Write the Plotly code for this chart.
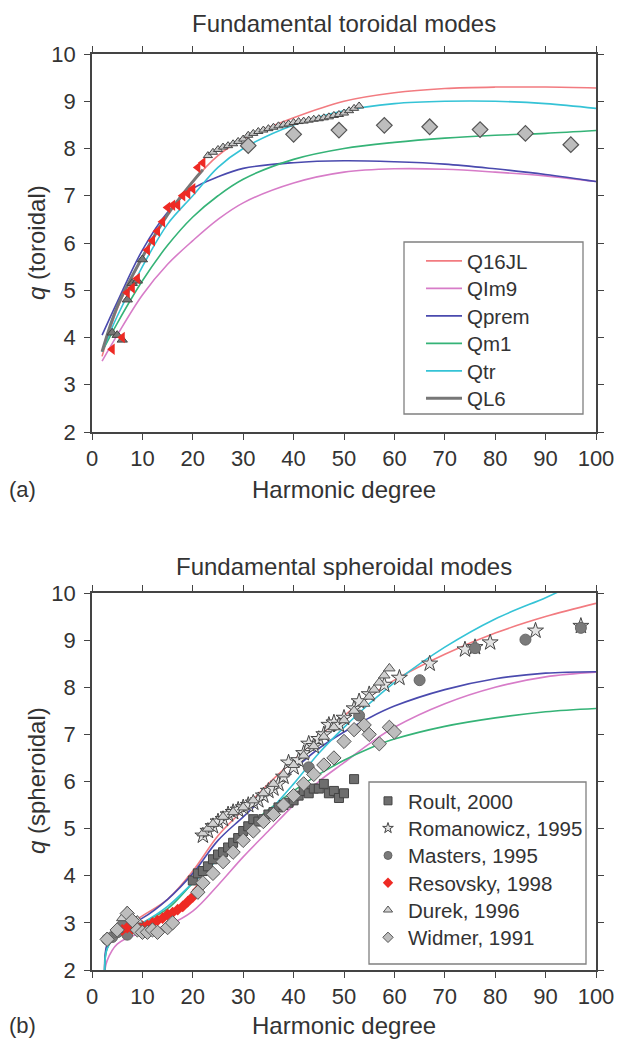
import plotly.graph_objects as go

W, H = 618, 1040

# ---------------- Panel (a): toroidal ----------------
tor_l = [2, 5, 10, 15, 20, 25, 30, 40, 50, 60, 70, 80, 90, 100]
tor_Q16JL = [3.6, 4.6, 5.7, 6.6, 7.3, 7.85, 8.2, 8.65, 9.0, 9.18, 9.27, 9.3, 9.3, 9.28]
tor_QIm9 = [3.5, 4.05, 4.9, 5.55, 6.05, 6.5, 6.85, 7.27, 7.5, 7.57, 7.56, 7.5, 7.42, 7.3]
tor_Qprem = [4.05, 4.75, 5.85, 6.65, 7.15, 7.4, 7.58, 7.7, 7.74, 7.72, 7.67, 7.57, 7.45, 7.3]
tor_Qm1 = [3.7, 4.3, 5.2, 5.95, 6.55, 7.0, 7.35, 7.77, 8.0, 8.13, 8.22, 8.28, 8.32, 8.38]
tor_Qtr = [3.7, 4.45, 5.5, 6.4, 7.0, 7.6, 8.0, 8.5, 8.8, 8.95, 9.0, 9.0, 8.95, 8.85]
tor_QL6_l = [2, 5, 10, 15, 20, 22]
tor_QL6 = [3.7, 4.65, 5.7, 6.6, 7.3, 7.55]

tor_res_l = [4, 6, 7, 8, 9, 11, 12, 13, 14, 15, 16, 17, 18, 19, 20, 21, 22]
tor_res_q = [3.75, 4.0, 4.95, 5.05, 5.25, 5.85, 6.05, 6.25, 6.45, 6.75, 6.8, 6.8, 7.0, 7.05, 7.15, 7.6, 7.7]
tor_tri_lo_l = [4, 5, 6, 7, 8, 9, 10]
tor_tri_lo_q = [4.1, 4.05, 3.95, 4.8, 5.15, 5.2, 5.65]
tor_tri_l = list(range(23, 54))
tor_tri_q = [7.85, 7.92, 7.98, 8.03, 8.06, 8.1, 8.15, 8.2, 8.28, 8.32, 8.36, 8.39, 8.42, 8.45,
             8.48, 8.5, 8.52, 8.55, 8.57, 8.58, 8.6, 8.62, 8.63, 8.65, 8.67, 8.7, 8.72, 8.75,
             8.8, 8.85, 8.9]
tor_dia_l = [31, 40, 49, 58, 67, 77, 86, 95]
tor_dia_q = [8.06, 8.3, 8.39, 8.49, 8.46, 8.4, 8.32, 8.08]

# ---------------- Panel (b): spheroidal ----------------
sph_l = [2.5, 3, 5, 10, 15, 20, 25, 30, 35, 40, 45, 50, 55, 60, 70, 80, 90, 100]
sph_Q16JL = [2.0, 2.5, 2.8, 3.15, 3.5, 4.1, 4.85, 5.4, 5.95, 6.45, 6.95, 7.4, 7.8, 8.15, 8.7, 9.15, 9.5, 9.78]
sph_QIm9 = [1.95, 2.2, 2.55, 2.8, 2.95, 3.25, 3.8, 4.4, 4.95, 5.5, 6.0, 6.4, 6.8, 7.15, 7.65, 8.0, 8.22, 8.32]
sph_Qprem = [2.0, 2.55, 2.85, 3.1, 3.5, 4.05, 4.75, 5.25, 5.75, 6.25, 6.7, 7.05, 7.35, 7.6, 7.95, 8.18, 8.3, 8.33]
sph_Qm1 = [2.0, 2.45, 2.75, 3.0, 3.3, 3.85, 4.4, 4.95, 5.4, 5.8, 6.15, 6.45, 6.7, 6.9, 7.17, 7.35, 7.48, 7.55]
sph_Qtr_l = [2.5, 3, 5, 10, 15, 20, 25, 30, 35, 40, 45, 50, 55, 60, 70, 80, 90, 93]
sph_Qtr = [2.0, 2.45, 2.75, 3.0, 3.35, 3.85, 4.35, 4.85, 5.35, 5.95, 6.6, 7.15, 7.65, 8.1, 8.85, 9.45, 9.9, 10.05]

roult_l = [20, 21, 22, 23, 24, 25, 26, 27, 28, 29, 30, 31, 32, 33, 34, 35, 36, 37, 38, 39, 40,
           41, 42, 43, 44, 45, 46, 47, 48, 49, 50, 52]
roult_q = [3.9, 4.05, 4.1, 4.2, 4.35, 4.45, 4.5, 4.6, 4.7, 4.8, 4.95, 5.05, 5.2, 5.15, 5.2, 5.3,
           5.35, 5.45, 5.5, 5.55, 5.6, 5.7, 5.8, 5.75, 5.85, 5.85, 5.95, 5.75, 5.8, 5.65, 5.75, 6.05]
roman_l = [22, 23, 24, 25, 26, 27, 28, 29, 30, 31, 32, 33, 34, 35, 36, 37, 38, 39, 40, 41, 42,
           43, 44, 45, 46, 47, 48, 49, 50, 52, 53, 55, 58, 61, 67, 74, 76, 79, 88, 97]
roman_q = [4.85, 4.95, 5.05, 5.15, 5.2, 5.3, 5.35, 5.4, 5.45, 5.5, 5.55, 5.6, 5.7, 5.8, 5.85,
           5.95, 6.1, 6.4, 6.3, 6.45, 6.6, 6.8, 6.75, 6.9, 7.0, 7.2, 7.25, 7.2, 7.35, 7.55, 7.7,
           7.85, 8.05, 8.2, 8.5, 8.8, 8.85, 8.95, 9.2, 9.3]
masters_l = [3, 4, 5, 6, 7, 8, 9, 43, 53, 65, 76, 86, 97]
masters_q = [2.65, 2.7, 2.8, 2.95, 2.75, 3.0, 2.95, 6.3, 7.4, 8.15, 8.83, 9.01, 9.26]
resov_l = [6, 7, 8, 9, 10, 11, 12, 13, 14, 15, 16, 17, 18, 19, 20, 21]
resov_q = [2.85, 2.9, 2.88, 2.9, 2.93, 2.95, 3.0, 3.05, 3.1, 3.18, 3.22, 3.28, 3.35, 3.45, 3.55, 3.7]
durek_l = [3, 5, 6, 7, 8, 9, 22, 23, 24, 26, 28, 30, 32, 34, 36, 38, 40, 42, 44, 46, 48, 50, 52,
           54, 55, 56, 57, 58, 59]
durek_q = [2.7, 2.85, 3.1, 3.25, 3.1, 3.05, 4.9, 5.0, 5.1, 5.25, 5.35, 5.45, 5.6, 5.75, 5.95,
           6.15, 6.35, 6.55, 6.75, 6.95, 7.15, 7.3, 7.5, 7.65, 7.8, 7.95, 8.1, 8.25, 8.4]
widmer_l = [3, 5, 7, 8, 9, 10, 11, 12, 13, 15, 16, 21, 22, 24, 26, 28, 30, 32, 34, 36, 38, 40,
            42, 44, 46, 48, 50, 52, 54, 55, 57, 59, 60]
widmer_q = [2.65, 2.85, 3.2, 3.05, 2.85, 2.8, 2.8, 2.85, 2.8, 2.9, 3.0, 3.65, 3.85, 4.05, 4.3,
            4.5, 4.75, 4.95, 5.15, 5.3, 5.5, 5.7, 5.95, 6.15, 6.35, 6.5, 6.85, 7.1, 7.2, 7.0,
            6.8, 7.15, 7.05]

model_names = ["Q16JL", "QIm9", "Qprem", "Qm1", "Qtr", "QL6"]
model_colors = ["#f27b80", "#d77cc8", "#4a4aae", "#35b377", "#35c3d6", "#777777"]

FONT = "Liberation Sans, Arial, sans-serif"
TXT = "#333333"

# legend layout (pixel positions of each entry's centre)
top_leg_x, top_leg_y0, top_leg_dy = 421, 261, 27.5
bot_leg_x, bot_leg_y0, bot_leg_dy = 368, 801, 27.3

fig = go.Figure()
legends = {}

# ---- panel (a) lines ----
tor_curves = [(tor_l, tor_Q16JL), (tor_l, tor_QIm9), (tor_l, tor_Qprem),
              (tor_l, tor_Qm1), (tor_l, tor_Qtr), (tor_QL6_l, tor_QL6)]
for i, (name, col, (xs, ys)) in enumerate(zip(model_names, model_colors, tor_curves)):
    lg = "legend" if i == 0 else f"legend{i + 1}"
    legends[lg] = (top_leg_x, top_leg_y0 + i * top_leg_dy, 36)
    fig.add_trace(go.Scatter(x=xs, y=ys, mode="lines", name=name,
                             line=dict(color=col, width=3 if name == "QL6" else 1.6, shape="spline"),
                             xaxis="x", yaxis="y", legend=lg, showlegend=True))

# ---- panel (a) markers ----
fig.add_trace(go.Scatter(x=tor_tri_lo_l, y=tor_tri_lo_q, mode="markers", showlegend=False,
                         marker=dict(symbol="triangle-up", size=9, color="#777777",
                                     line=dict(color="#444444", width=1)), xaxis="x", yaxis="y"))
fig.add_trace(go.Scatter(x=tor_res_l, y=tor_res_q, mode="markers", showlegend=False,
                         marker=dict(symbol="triangle-left", size=10, color="#ee2a24",
                                     line=dict(color="#ee2a24", width=0)), xaxis="x", yaxis="y"))
fig.add_trace(go.Scatter(x=tor_tri_l, y=tor_tri_q, mode="markers", showlegend=False,
                         marker=dict(symbol="triangle-up", size=8, color="#c8c8c8",
                                     line=dict(color="#444444", width=1)), xaxis="x", yaxis="y"))
fig.add_trace(go.Scatter(x=tor_dia_l, y=tor_dia_q, mode="markers", showlegend=False,
                         marker=dict(symbol="diamond", size=12, color="#bdbdbd",
                                     line=dict(color="#555555", width=1.2)), xaxis="x", yaxis="y"))

# ---- panel (b) lines ----
sph_curves = [(sph_l, sph_Q16JL), (sph_l, sph_QIm9), (sph_l, sph_Qprem),
              (sph_l, sph_Qm1), (sph_Qtr_l, sph_Qtr)]
for name, col, (xs, ys) in zip(model_names[:5], model_colors[:5], sph_curves):
    fig.add_trace(go.Scatter(x=xs, y=ys, mode="lines", name=name, showlegend=False,
                             line=dict(color=col, width=1.6, shape="spline"),
                             xaxis="x2", yaxis="y2"))

# ---- panel (b) markers ----
sph_sets = [
    ("Roult, 2000", roult_l, roult_q, dict(symbol="square", size=9, color="#6e6e6e",
                                           line=dict(color="#444444", width=1))),
    ("Romanowicz, 1995", roman_l, roman_q, dict(symbol="star", size=12, color="#e4e4e4",
                                                line=dict(color="#444444", width=1))),
    ("Masters, 1995", masters_l, masters_q, dict(symbol="circle", size=11, color="#7a7a7a",
                                                 line=dict(color="#666666", width=1))),
    ("Resovsky, 1998", resov_l, resov_q, dict(symbol="diamond", size=9, color="#ee2a24",
                                              line=dict(color="#ee2a24", width=0))),
    ("Durek, 1996", durek_l, durek_q, dict(symbol="triangle-up", size=10, color="#d0d0d0",
                                           line=dict(color="#555555", width=1))),
    ("Widmer, 1991", widmer_l, widmer_q, dict(symbol="diamond", size=11, color="#bdbdbd",
                                              line=dict(color="#555555", width=1))),
]
for name, xs, ys, mk in sph_sets:
    fig.add_trace(go.Scatter(x=xs, y=ys, mode="markers", name=name, legendgroup=name,
                             showlegend=False, marker=mk, xaxis="x2", yaxis="y2"))
for i, (name, xs, ys, mk) in enumerate(sph_sets):
    lg = f"legend{i + 7}"
    legends[lg] = (bot_leg_x, bot_leg_y0 + i * bot_leg_dy, 30)
    small = dict(mk)
    small["size"] = 8
    fig.add_trace(go.Scatter(x=[None], y=[None], mode="markers", name=name, legendgroup=name,
                             showlegend=True, marker=small, xaxis="x2", yaxis="y2", legend=lg))

xd = [92 / W, 596 / W]
yd_a = [1 - 432 / H, 1 - 54 / H]
yd_b = [1 - 970 / H, 1 - 593 / H]

axis_common = dict(showline=True, linecolor="#444444", linewidth=1.5, mirror="ticks",
                   ticks="outside", ticklen=6, tickwidth=1.2, tickcolor="#444444",
                   showgrid=False, zeroline=False, automargin=False,
                   tickfont=dict(family=FONT, size=22, color=TXT))

fig.update_layout(
    width=W, height=H, margin=dict(l=0, r=0, t=0, b=0, autoexpand=False),
    paper_bgcolor="white", plot_bgcolor="white",
    font=dict(family=FONT, color=TXT),
    xaxis=dict(domain=xd, range=[0, 100], dtick=10, anchor="y", **axis_common),
    yaxis=dict(domain=yd_a, range=[2, 10], dtick=1, anchor="x", ticklabelstandoff=4, **axis_common),
    xaxis2=dict(domain=xd, range=[0, 100], dtick=10, anchor="y2", **axis_common),
    yaxis2=dict(domain=yd_b, range=[2, 10], dtick=1, anchor="x2", ticklabelstandoff=4, **axis_common),
    showlegend=True,
)
for lg, (lx, ly, iw) in legends.items():
    fig.update_layout({lg: dict(x=lx / W, y=1 - ly / H, xanchor="left", yanchor="middle",
                                bgcolor="rgba(0,0,0,0)", borderwidth=0, itemwidth=iw,
                                font=dict(family=FONT, size=20.5, color=TXT))})

# legend frames
for (x0, y0, x1, y1) in [(404, 242, 583, 414), (369, 782, 586, 964)]:
    fig.add_shape(type="rect", xref="paper", yref="paper", layer="above",
                  x0=x0 / W, x1=x1 / W, y0=1 - y1 / H, y1=1 - y0 / H,
                  fillcolor="white", line=dict(color="#808080", width=1.3))

ann = [
    dict(text="Fundamental toroidal modes", x=344 / W, y=1 - 23 / H, size=24),
    dict(text="Fundamental spheroidal modes", x=344 / W, y=1 - 566 / H, size=24),
    dict(text="Harmonic degree", x=344 / W, y=1 - 489 / H, size=24),
    dict(text="Harmonic degree", x=344 / W, y=1 - 1025 / H, size=24),
    dict(text="(a)", x=22 / W, y=1 - 489 / H, size=22),
    dict(text="(b)", x=22 / W, y=1 - 1025 / H, size=22),
]
for a in ann:
    fig.add_annotation(text=a["text"], x=a["x"], y=a["y"], xref="paper", yref="paper",
                       xanchor="center", yanchor="middle", showarrow=False,
                       font=dict(family=FONT, size=a["size"], color=TXT))
fig.add_annotation(text="<i>q</i> (toroidal)", x=36 / W, y=1 - 243 / H, xref="paper",
                   yref="paper", textangle=-90, showarrow=False, xanchor="center",
                   yanchor="middle", font=dict(family=FONT, size=24, color=TXT))
fig.add_annotation(text="<i>q</i> (spheroidal)", x=36 / W, y=1 - 781 / H, xref="paper",
                   yref="paper", textangle=-90, showarrow=False, xanchor="center",
                   yanchor="middle", font=dict(family=FONT, size=24, color=TXT))

fig.write_html("out.html")
